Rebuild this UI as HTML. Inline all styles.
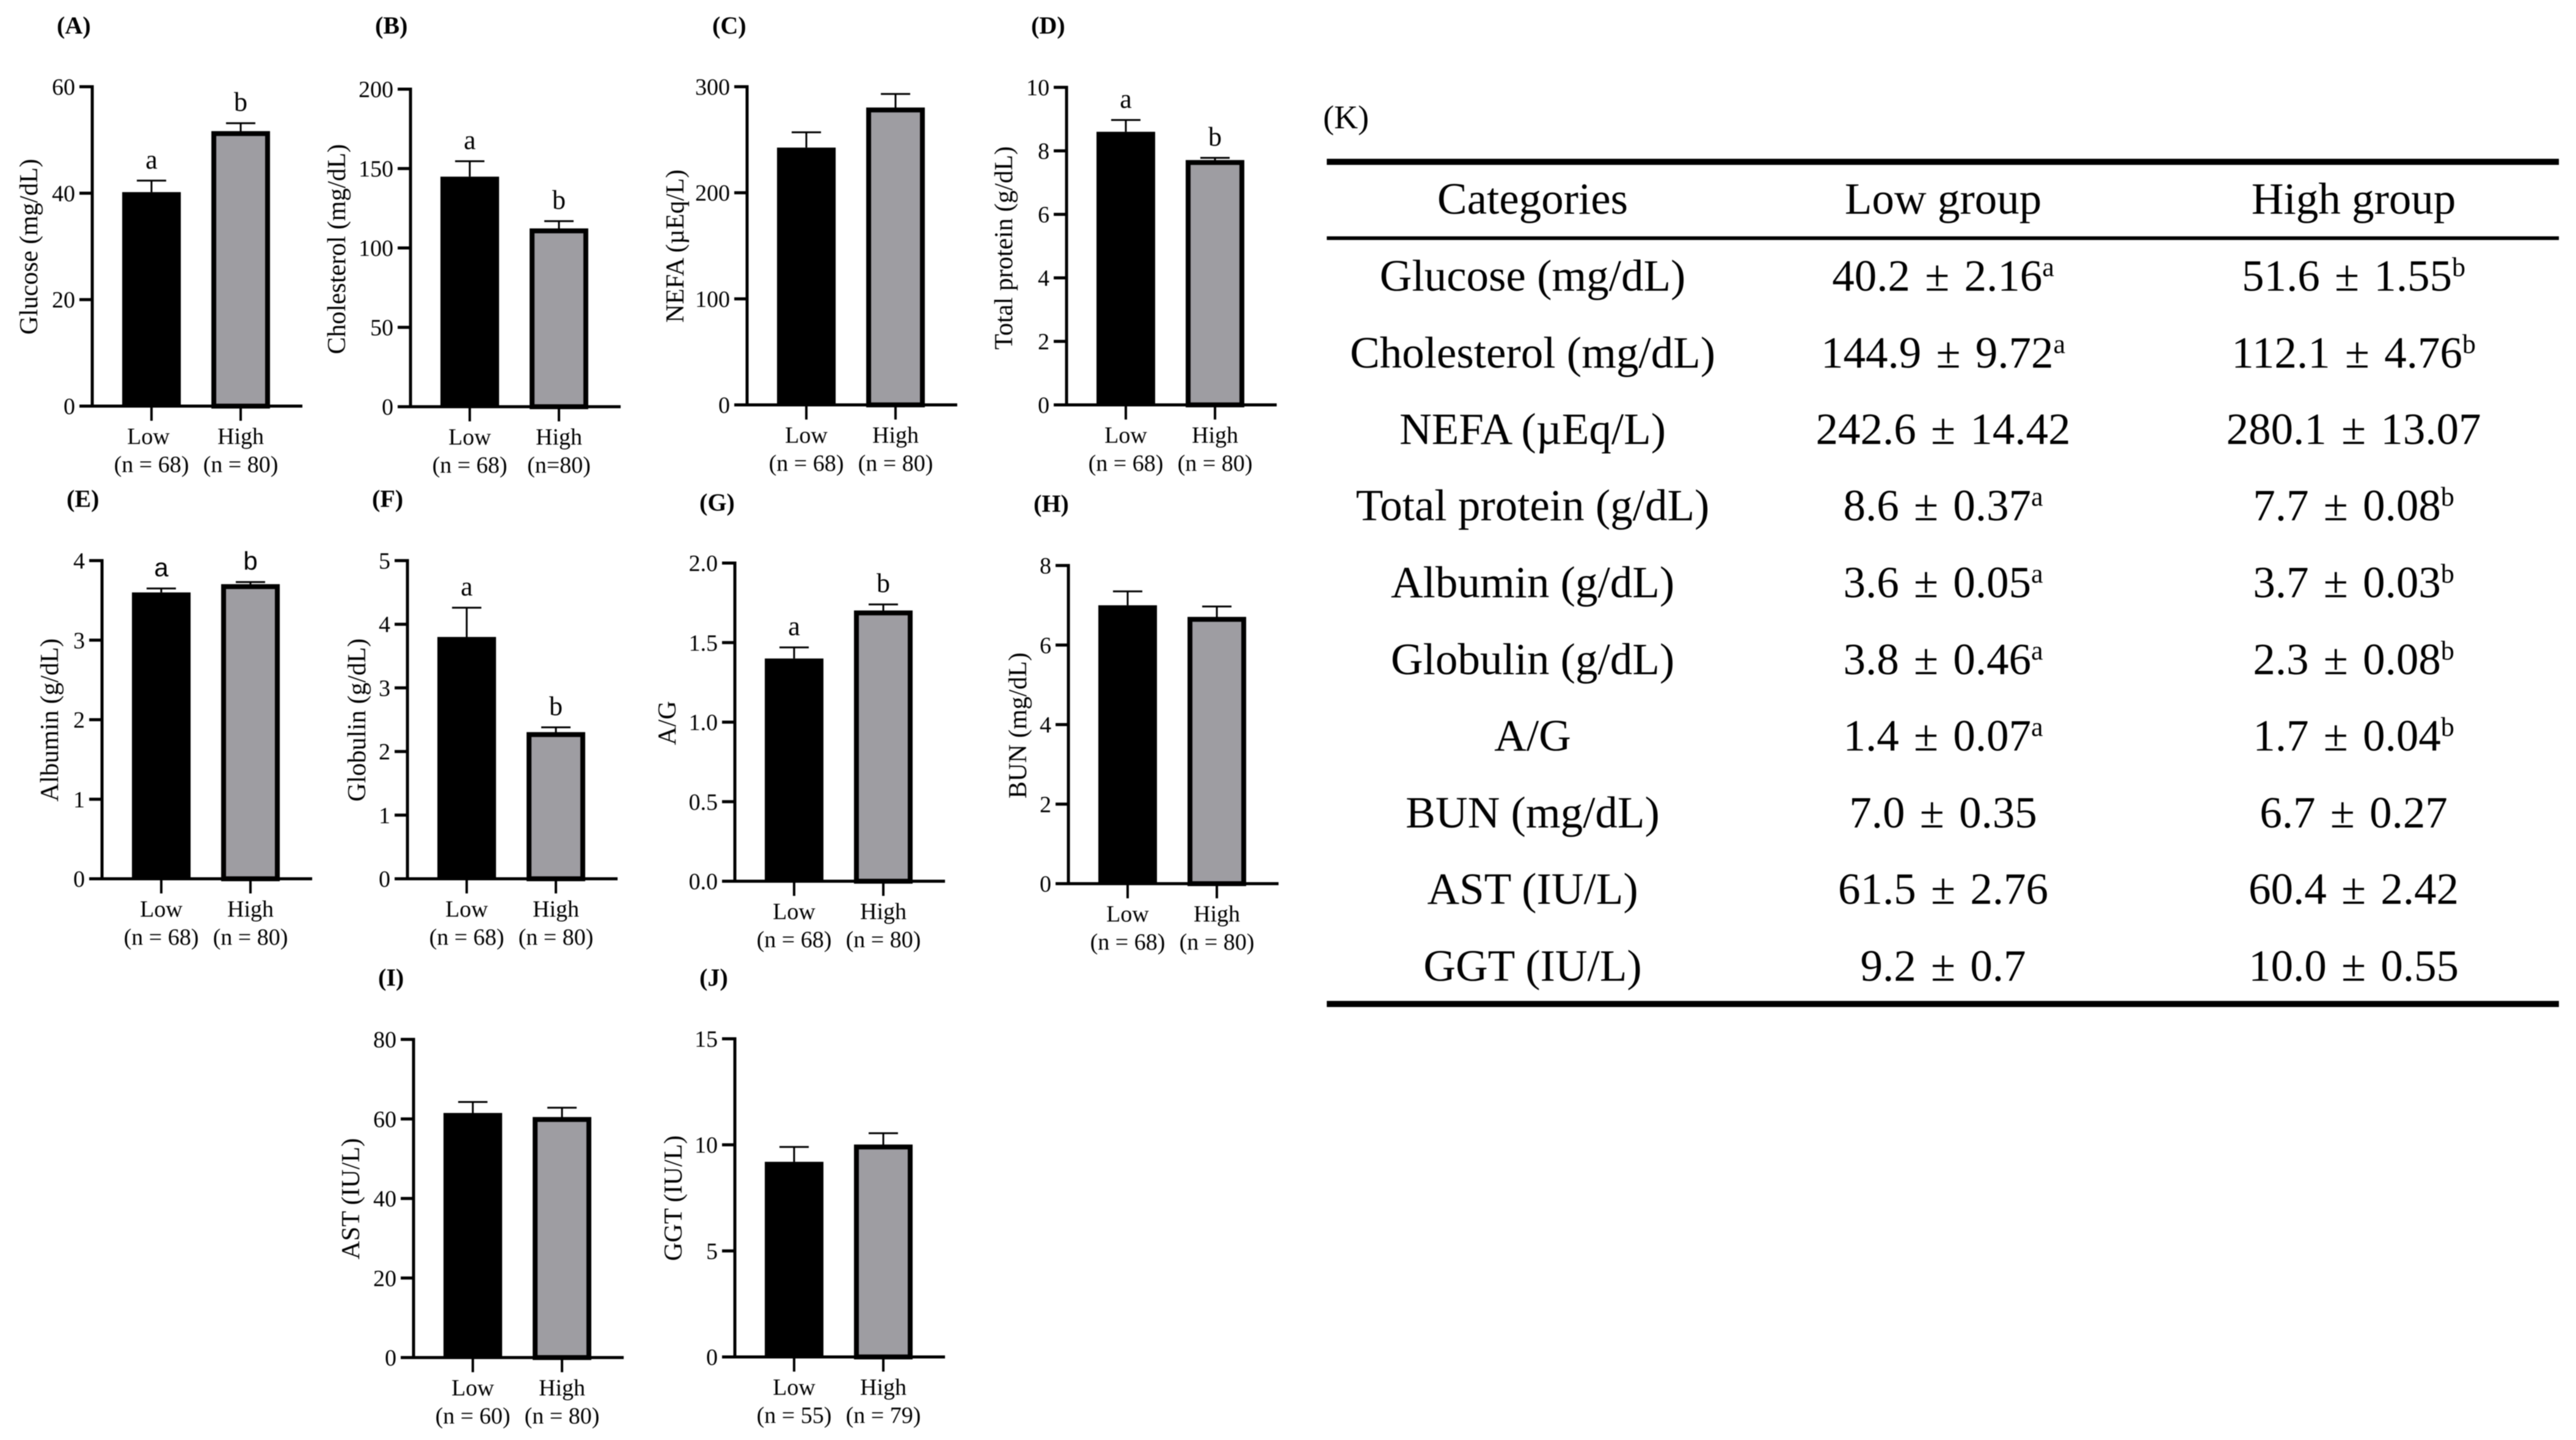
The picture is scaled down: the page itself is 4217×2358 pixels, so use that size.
<!DOCTYPE html>
<html lang="en">
<head>
<meta charset="utf-8">
<title>Blood biochemistry: low and high groups</title>
<style>
html,body{margin:0;padding:0;background:#fff;width:4217px;height:2358px;overflow:hidden}
svg{display:block;position:absolute;left:0;top:0;filter:blur(0.9px)}
text{font-family:"Liberation Serif","DejaVu Serif",serif;fill:#000}
.tbl{font-size:73px;text-anchor:middle}
.tbl tspan{font-size:44px}
.row text:nth-child(n+2){word-spacing:6px}
</style>
</head>
<body>
<svg id="figure" xmlns="http://www.w3.org/2000/svg" width="4217" height="2358" viewBox="0 0 4217 2358">
  <g id="charts"></g>
  <g id="table">
    <text x="2166" y="210" font-size="54">(K)</text>
    <rect x="2172" y="260" width="2017" height="10" fill="#000"/>
    <rect x="2172" y="387" width="2017" height="6" fill="#000"/>
    <rect x="2172" y="1639" width="2017" height="10" fill="#000"/>
    <g class="tbl">
      <text x="2509" y="350">Categories</text>
      <text x="3181" y="350">Low group</text>
      <text x="3853" y="350">High group</text>
    </g>
    <g class="tbl row">
      <text x="2509" y="476">Glucose (mg/dL)</text>
      <text x="3181" y="476">40.2 ± 2.16<tspan dy="-24">a</tspan></text>
      <text x="3853" y="476">51.6 ± 1.55<tspan dy="-24">b</tspan></text>
    </g>
    <g class="tbl row">
      <text x="2509" y="602">Cholesterol (mg/dL)</text>
      <text x="3181" y="602">144.9 ± 9.72<tspan dy="-24">a</tspan></text>
      <text x="3853" y="602">112.1 ± 4.76<tspan dy="-24">b</tspan></text>
    </g>
    <g class="tbl row">
      <text x="2509" y="727">NEFA (µEq/L)</text>
      <text x="3181" y="727">242.6 ± 14.42</text>
      <text x="3853" y="727">280.1 ± 13.07</text>
    </g>
    <g class="tbl row">
      <text x="2509" y="852">Total protein (g/dL)</text>
      <text x="3181" y="852">8.6 ± 0.37<tspan dy="-24">a</tspan></text>
      <text x="3853" y="852">7.7 ± 0.08<tspan dy="-24">b</tspan></text>
    </g>
    <g class="tbl row">
      <text x="2509" y="978">Albumin (g/dL)</text>
      <text x="3181" y="978">3.6 ± 0.05<tspan dy="-24">a</tspan></text>
      <text x="3853" y="978">3.7 ± 0.03<tspan dy="-24">b</tspan></text>
    </g>
    <g class="tbl row">
      <text x="2509" y="1104">Globulin (g/dL)</text>
      <text x="3181" y="1104">3.8 ± 0.46<tspan dy="-24">a</tspan></text>
      <text x="3853" y="1104">2.3 ± 0.08<tspan dy="-24">b</tspan></text>
    </g>
    <g class="tbl row">
      <text x="2509" y="1229">A/G</text>
      <text x="3181" y="1229">1.4 ± 0.07<tspan dy="-24">a</tspan></text>
      <text x="3853" y="1229">1.7 ± 0.04<tspan dy="-24">b</tspan></text>
    </g>
    <g class="tbl row">
      <text x="2509" y="1355">BUN (mg/dL)</text>
      <text x="3181" y="1355">7.0 ± 0.35</text>
      <text x="3853" y="1355">6.7 ± 0.27</text>
    </g>
    <g class="tbl row">
      <text x="2509" y="1480">AST (IU/L)</text>
      <text x="3181" y="1480">61.5 ± 2.76</text>
      <text x="3853" y="1480">60.4 ± 2.42</text>
    </g>
    <g class="tbl row">
      <text x="2509" y="1606">GGT (IU/L)</text>
      <text x="3181" y="1606">9.2 ± 0.7</text>
      <text x="3853" y="1606">10.0 ± 0.55</text>
    </g>
  </g>
</svg>
<script>
// ---- chart data, one entry per panel (A..J) ----
const panelLetters = ["A", "B", "C", "D", "E", "F", "G", "H", "I", "J"];
const yTitles = ["Glucose (mg/dL)", "Cholesterol (mg/dL)", "NEFA (µEq/L)", "Total protein (g/dL)", "Albumin (g/dL)", "Globulin (g/dL)", "A/G", "BUN (mg/dL)", "AST (IU/L)", "GGT (IU/L)"];
const categories = ["Low", "High"];
const lowValues = [40.2, 144.9, 242.6, 8.6, 3.6, 3.8, 1.4, 7.0, 61.5, 9.2];
const highValues = [51.6, 112.1, 280.1, 7.7, 3.7, 2.3, 1.7, 6.7, 60.4, 10.0];
const lowErrors = [2.16, 9.72, 14.42, 0.37, 0.05, 0.46, 0.07, 0.35, 2.76, 0.7];
const highErrors = [1.55, 4.76, 13.07, 0.08, 0.03, 0.08, 0.04, 0.27, 2.42, 0.55];
const tickLabels = [
  ["0", "20", "40", "60"],
  ["0", "50", "100", "150", "200"],
  ["0", "100", "200", "300"],
  ["0", "2", "4", "6", "8", "10"],
  ["0", "1", "2", "3", "4"],
  ["0", "1", "2", "3", "4", "5"],
  ["0.0", "0.5", "1.0", "1.5", "2.0"],
  ["0", "2", "4", "6", "8"],
  ["0", "20", "40", "60", "80"],
  ["0", "5", "10", "15"]
];
const lowCounts = ["(n = 68)", "(n = 68)", "(n = 68)", "(n = 68)", "(n = 68)", "(n = 68)", "(n = 68)", "(n = 68)", "(n = 60)", "(n = 55)"];
const highCounts = ["(n = 80)", "(n=80)", "(n = 80)", "(n = 80)", "(n = 80)", "(n = 80)", "(n = 80)", "(n = 80)", "(n = 80)", "(n = 79)"];
const lowSignificance = ["a", "a", "", "a", "a", "a", "a", "", "", ""];
const highSignificance = ["b", "b", "", "b", "b", "b", "b", "", "", ""];

// ---- panel layout (axis frames), separate from the data ----
const axisLeft = [151, 672, 1223, 1746, 167, 667, 1203, 1749, 677, 1203];
const axisTop = [142, 146, 142, 143, 918, 918, 922, 926, 1702, 1701];
const axisBottom = [665, 666, 663, 663, 1439, 1439, 1443, 1447, 2223, 2222];
const titleBaseX = [61, 565, 1119, 1657, 95, 598, 1106, 1680, 588, 1116];
const titleCenterY = [404, 408, 403, 406, 1179, 1179, 1184, 1188, 1963, 1962];
const labelX = [93, 614, 1166, 1688, 109, 609, 1145, 1692, 619, 1145];
const labelY = [55, 55, 55, 55, 830, 830, 836, 838, 1614, 1614];

const NS = "http://www.w3.org/2000/svg";
const root = document.getElementById("charts");

function shape(parent, tag, attrs, txt) {
  const el = document.createElementNS(NS, tag);
  for (const k in attrs) el.setAttribute(k, attrs[k]);
  if (txt !== undefined) el.textContent = txt;
  parent.appendChild(el);
  return el;
}

panelLetters.forEach(function (letter, p) {
  const id = letter.toLowerCase();
  const left = axisLeft[p], top = axisTop[p], bottom = axisBottom[p];
  const ticks = tickLabels[p];
  const yMax = parseFloat(ticks[ticks.length - 1]);
  const yScale = function (v) { return bottom - (v / yMax) * (bottom - top); };
  const xScale = function (i) { return left + 97 + 146 * i; };

  const g = shape(root, "g", {});
  
  

  const label = shape(g, "text", { x: labelX[p], y: labelY[p], "font-size": 40, "font-weight": "bold" }, "(" + letter + ")");
  
  

  const title = shape(g, "text", {
    transform: "translate(" + titleBaseX[p] + "," + titleCenterY[p] + ") rotate(-90)",
    "text-anchor": "middle", "font-size": 42
  }, yTitles[p]);
  
  

  // bars and error bars
  const values = [lowValues[p], highValues[p]];
  const errors = [lowErrors[p], highErrors[p]];
  const marks = [lowSignificance[p], highSignificance[p]];
  values.forEach(function (v, i) {
    const cx = xScale(i), yv = yScale(v), yErr = yScale(v + errors[i]);
    const groupKey = categories[i].toLowerCase();

    const stem = shape(g, "line", { x1: cx, x2: cx, y1: yv, y2: yErr, stroke: "#000", "stroke-width": 3 });
    
    

    const cap = shape(g, "line", { x1: cx - 24, x2: cx + 24, y1: yErr, y2: yErr, stroke: "#000", "stroke-width": 3 });
    
    

    const bar = i === 0
      ? shape(g, "rect", { x: cx - 48, y: yv, width: 96, height: bottom - yv, fill: "#000" })
      : shape(g, "rect", { x: cx - 44, y: yv + 3.5, width: 88, height: bottom - yv - 3.5, fill: "#9e9da2", stroke: "#000", "stroke-width": 8 });
    
    

    if (marks[i]) {
      const isSans = letter === "E";
      const sig = shape(g, "text", {
        x: cx, y: yErr - 20, "text-anchor": "middle", "font-size": isSans ? 42 : 44,
        style: isSans ? 'font-family:"Liberation Sans",sans-serif' : ""
      }, marks[i]);
      
      
    }

    const tick = shape(g, "line", { x1: cx, x2: cx, y1: bottom, y2: bottom + 24, stroke: "#000", "stroke-width": 4 });
    
    

    const catShift = (letter === "A" && i === 0) ? -5 : 0;
    const cat = shape(g, "text", { x: cx + catShift, y: bottom + 62, "text-anchor": "middle", "font-size": 38 }, categories[i]);
    
    

    const count = shape(g, "text", { x: cx, y: bottom + 108, "text-anchor": "middle", "font-size": 38 }, i === 0 ? lowCounts[p] : highCounts[p]);
    
    
  });

  // axes
  const yAxis = shape(g, "line", { x1: left, x2: left, y1: top - 2.5, y2: bottom + 2.5, stroke: "#000", "stroke-width": 5 });
  
  

  const xAxis = shape(g, "line", { x1: left - 21, x2: left + 344, y1: bottom, y2: bottom, stroke: "#000", "stroke-width": 5 });
  
  

  ticks.forEach(function (t) {
    const y = yScale(parseFloat(t));
    const mark = shape(g, "line", { x1: left - 21, x2: left, y1: y, y2: y, stroke: "#000", "stroke-width": 5 });
    
    

    const tl = shape(g, "text", { x: left - 28, y: y + 13, "text-anchor": "end", "font-size": 38 }, t);
    
    
  });
});
</script>
</body>
</html>
